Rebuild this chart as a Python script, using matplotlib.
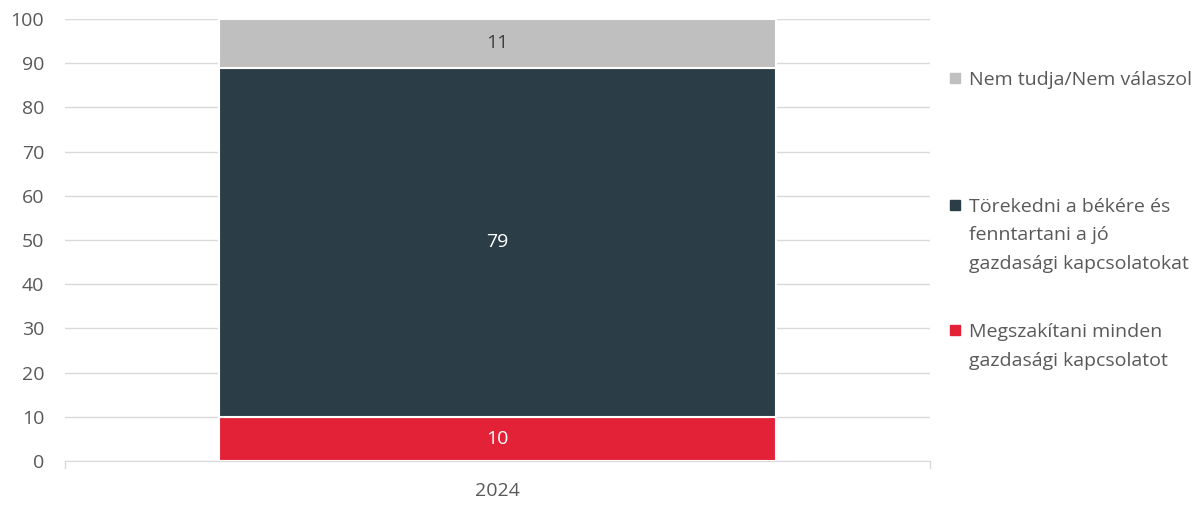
import matplotlib.pyplot as plt
from matplotlib.patches import Rectangle

categories = ["2024"]
series_names = ["Megszakítani minden\ngazdasági kapcsolatot",
                "Törekedni a békére és\nfenntartani a jó\ngazdasági kapcsolatokat",
                "Nem tudja/Nem válaszol"]
values = [[10], [79], [11]]
colors = ["#E32237", "#2B3E48", "#BFBFBF"]
label_colors = ["white", "white", "#404040"]
yticks = [0, 10, 20, 30, 40, 50, 60, 70, 80, 90, 100]

plt.rcParams['font.family'] = ['Open Sans', 'DejaVu Sans']
FS = 14
TXT = '#595959'

W, H = 1203, 505
fig = plt.figure(figsize=(W/100, H/100), dpi=100)
ax = fig.add_axes([65/W, 1-461/H, 865/W, 442/H])

x = list(range(len(categories)))
bottom = [0]*len(categories)
for name, vals, c, lc in zip(series_names, values, colors, label_colors):
    ax.bar(x, vals, bottom=bottom, width=0.644, color=c, edgecolor='white',
           linewidth=1.5, zorder=3)
    for xi, v, b in zip(x, vals, bottom):
        ax.text(xi, b + v/2, str(v), ha='center', va='center', color=lc, fontsize=FS, zorder=4)
    bottom = [b + v for b, v in zip(bottom, vals)]

ax.set_xlim(-0.5, 0.5)
ax.set_ylim(0, 100)
ax.set_yticks(yticks)
ax.set_xticks(x)
ax.set_xticklabels(categories)
ax.grid(axis='y', color='#D9D9D9', linewidth=1, zorder=0)
for s in ['top', 'right', 'left']:
    ax.spines[s].set_visible(False)
ax.spines['bottom'].set_color('#D9D9D9')
ax.tick_params(axis='y', length=0, labelsize=FS, labelcolor=TXT, pad=15)
ax.tick_params(axis='x', length=0, labelsize=FS, labelcolor=TXT, pad=15)
for xb in [-0.5, 0.5]:
    ax.plot([xb, xb], [0, -1.5], color='#D9D9D9', lw=1, clip_on=False)

# legend entries placed individually (top to bottom), first-line centre y in px
legend_first_y = [78, 205, 330]
order = [2, 1, 0]
line_h = 28.5
for yy, idx in zip(legend_first_y, order):
    fig.patches.append(Rectangle((950/W, 1 - (yy + 5)/H), 10/W, 10/H,
                                 transform=fig.transFigure, color=colors[idx]))
    for k, line in enumerate(series_names[idx].split('\n')):
        fig.text(969/W, 1 - (yy + k*line_h)/H, line, ha='left', va='center_baseline',
                 fontsize=14, color=TXT)

fig.savefig('out.png', dpi=100)
